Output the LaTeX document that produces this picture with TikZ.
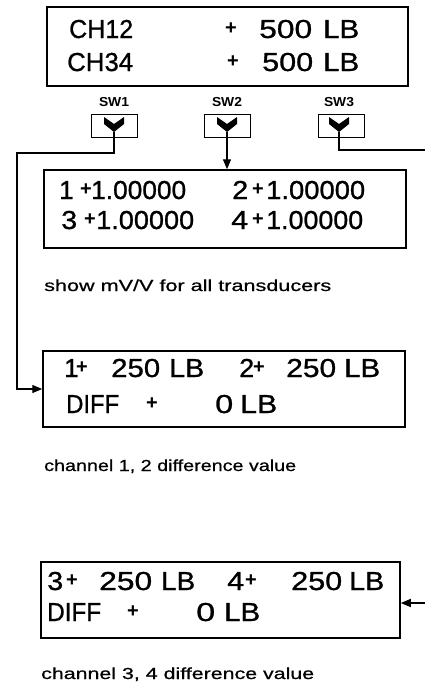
\documentclass[tikz,border=0pt]{standalone}
\usepackage{fontspec}
\setmainfont{Liberation Sans}
\newfontfamily\dispfont{Liberation Sans}[FakeBold=0.9]
\newfontfamily\capfont{Liberation Sans}[FakeBold=0.6]
\usepackage{graphicx}
\usetikzlibrary{arrows.meta}
\newcommand\fitw[2]{\resizebox{#1pt}{\height}{#2}}
\tikzset{
  disp/.style={draw, line width=1.5pt, inner sep=0pt},
  big/.style={font=\dispfont\fontsize{26}{31}\selectfont, inner sep=0pt, anchor=base west},
  pl/.style={font=\fontsize{20}{24}\selectfont\bfseries, inner sep=0pt},
  captxt/.style={font=\capfont\fontsize{16}{19}\selectfont, inner sep=0pt, anchor=base west},
  swbox/.style={draw, line width=1pt, minimum width=46pt, minimum height=23pt, inner sep=0pt},
  swlab/.style={font=\fontsize{13}{15}\selectfont\bfseries, inner sep=0pt, anchor=base},
  conn/.style={line width=1.3pt},
  arr/.style={conn, -{Triangle[length=10pt,width=8pt]}},
  chevron/.pic={\fill (-10,-8) -- (0,-1) -- (10,-8) -- (10,-1) -- (0,7) -- (-10,-1) -- cycle;}
}
\begin{document}
\begin{tikzpicture}[x=1pt,y=-1pt]
\useasboundingbox[fill=white] (0,0) rectangle (425,685);

% display boxes
\node[disp, minimum width=361pt, minimum height=79pt] (d1) at (227.5,46.5) {};
\node[disp, minimum width=362pt, minimum height=78pt] (d2) at (225,209) {};
\node[disp, minimum width=362pt, minimum height=76pt] (d3) at (224,389) {};
\node[disp, minimum width=359pt, minimum height=76pt] (d4) at (220.5,600) {};

% switches
\node[swbox] (sw1) at (114,125.5) {};
\node[swbox] (sw2) at (227,125.5) {};
\node[swbox] (sw3) at (341,125.5) {};
\node[swlab] (l1) at (114,106) {\fitw{30}{SW1}};
\node[swlab] (l2) at (227,106) {\fitw{30}{SW2}};
\node[swlab] (l3) at (339,106) {\fitw{30}{SW3}};
\pic (ch1) at (114,125) {chevron};
\pic (ch2) at (227,125) {chevron};
\pic (ch3) at (339,125) {chevron};
\coordinate (b1) at (114,132);
\coordinate (b2) at (227,132);
\coordinate (b3) at (339,132);

% connectors
\coordinate (j1) at (17,153);
\draw[arr] (b1) |- (j1) |- (d3.west);
\draw[arr] (b2) -- (d2.north -| b2);
\coordinate (e3) at (425,150);
\draw[conn] (b3) |- (e3);
\coordinate (e4) at (425,603);
\draw[arr] (e4) -- (e4 -| d4.east);

% box 1 text
\node[big] (t11) at (69,38) {\fitw{64}{CH12}};
\node[pl] (t12) at (231,29) {+};
\node[big] (t13) at (259,38) {\fitw{53}{500}};
\node[big] (t14) at (323,38) {\fitw{36}{LB}};
\node[big] (t15) at (67,71) {\fitw{66}{CH34}};
\node[pl] (t16) at (233,62) {+};
\node[big] (t17) at (262,71) {\fitw{51}{500}};
\node[big] (t18) at (323,71) {\fitw{36}{LB}};

% box 2 text
\node[big] (t21) at (59,199) {1};
\node[pl] (t22) at (86,190) {+};
\node[big] (t23) at (91,199) {\fitw{95}{1.00000}};
\node[big] (t24) at (232,199) {\fitw{16}{2}};
\node[pl] (t25) at (258,190) {+};
\node[big] (t26) at (266,199) {\fitw{99}{1.00000}};
\node[big] (t27) at (61,229) {\fitw{16}{3}};
\node[pl] (t28) at (90,220) {+};
\node[big] (t29) at (96,229) {\fitw{98}{1.00000}};
\node[big] (t2a) at (231,229) {\fitw{17}{4}};
\node[pl] (t2b) at (258,220) {+};
\node[big] (t2c) at (266,229) {\fitw{97}{1.00000}};
\node[captxt] (c2) at (44,291) {\fitw{287}{show mV/V for all transducers}};

% box 3 text
\node[big] (t31) at (64,377) {1};
\node[pl] (t32) at (82,368) {+};
\node[big] (t33) at (111,377) {\fitw{49}{250}};
\node[big] (t34) at (169,377) {\fitw{35}{LB}};
\node[big] (t35) at (239,377) {\fitw{15}{2}};
\node[pl] (t36) at (259,368) {+};
\node[big] (t37) at (286,377) {\fitw{50}{250}};
\node[big] (t38) at (344,377) {\fitw{36}{LB}};
\node[big] (t39) at (66,413) {\fitw{53}{DIFF}};
\node[pl] (t3a) at (152,404) {+};
\node[big] (t3b) at (215,413) {\fitw{18}{0}};
\node[big] (t3c) at (240,413) {\fitw{37}{LB}};
\node[captxt] (c3) at (44,471) {\fitw{252}{channel 1, 2 difference value}};

% box 4 text
\node[big] (t41) at (47,590) {\fitw{16}{3}};
\node[pl] (t42) at (72,581) {+};
\node[big] (t43) at (99,590) {\fitw{53}{250}};
\node[big] (t44) at (161,590) {\fitw{34}{LB}};
\node[big] (t45) at (227,590) {\fitw{17}{4}};
\node[pl] (t46) at (251,581) {+};
\node[big] (t47) at (291,590) {\fitw{51}{250}};
\node[big] (t48) at (349,590) {\fitw{35}{LB}};
\node[big] (t49) at (47,621) {\fitw{54}{DIFF}};
\node[pl] (t4a) at (133,612) {+};
\node[big] (t4b) at (196,621) {\fitw{19}{0}};
\node[big] (t4c) at (224,621) {\fitw{36}{LB}};
\node[captxt] (c4) at (41,679) {\fitw{273}{channel 3, 4 difference value}};
\end{tikzpicture}
\end{document}
